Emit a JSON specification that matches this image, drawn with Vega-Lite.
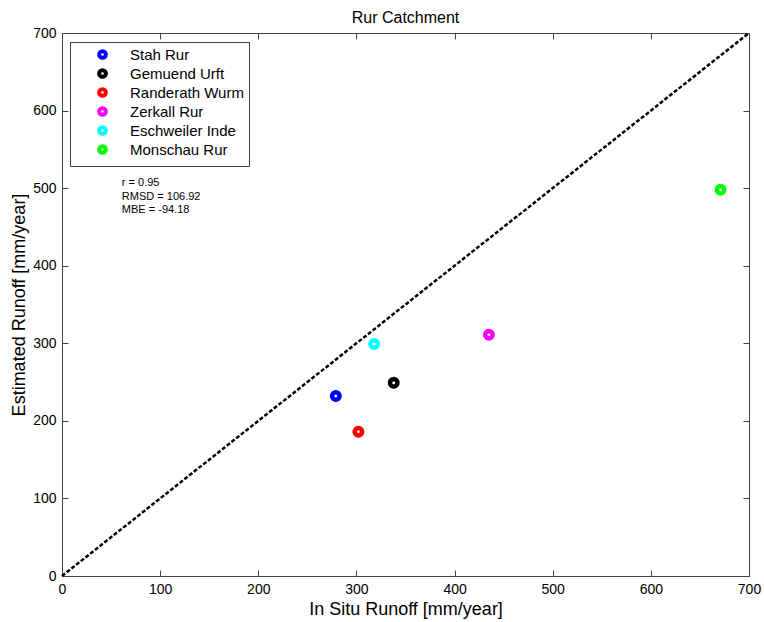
{
  "$schema": "https://vega.github.io/schema/vega-lite/v6.json",
  "width": 687,
  "height": 543,
  "autosize": {"type": "none"},
  "padding": {"left": 62, "top": 33, "right": 15, "bottom": 46},
  "background": "white",
  "config": {
    "font": "Liberation Sans",
    "view": {"stroke": "#444", "strokeWidth": 1},
    "axis": {"grid": false, "domain": false, "tickColor": "#444", "labelColor": "black", "titleColor": "black", "labelFontSize": 14, "titleFontSize": 18, "titleFontWeight": "normal", "tickSize": -6, "labelPadding": 12, "labelFlush": false}
  },
  "title": {"text": "Rur Catchment", "fontSize": 16, "fontWeight": "normal", "offset": 0, "color": "black"},
  "datasets": {
    "stations": [
      {"station": "Stah Rur", "insitu": 279, "estimated": 232},
      {"station": "Gemuend Urft", "insitu": 338, "estimated": 249},
      {"station": "Randerath Wurm", "insitu": 302, "estimated": 186},
      {"station": "Zerkall Rur", "insitu": 435, "estimated": 311},
      {"station": "Eschweiler Inde", "insitu": 318, "estimated": 299},
      {"station": "Monschau Rur", "insitu": 671, "estimated": 498}
    ]
  },
  "resolve": {"axis": {"x": "independent", "y": "independent"}},
  "layer": [
    {
      "data": {"values": [{"line": "1:1"}]},
      "mark": {"type": "rule", "strokeDash": [4, 2], "strokeWidth": 2.5, "color": "black"},
      "encoding": {
        "x": {"datum": 0, "type": "quantitative", "scale": {"domain": [0, 700], "nice": false}, "axis": {"orient": "top", "labels": false, "title": null, "values": [0, 100, 200, 300, 400, 500, 600, 700]}},
        "y": {"datum": 0, "type": "quantitative", "scale": {"domain": [0, 700], "nice": false}, "axis": {"orient": "right", "labels": false, "title": null, "values": [0, 100, 200, 300, 400, 500, 600, 700]}},
        "x2": {"datum": 700},
        "y2": {"datum": 700}
      }
    },
    {
      "data": {"name": "stations"},
      "mark": {"type": "point", "shape": "circle", "filled": false, "strokeWidth": 4.5, "size": 56, "opacity": 1},
      "encoding": {
        "x": {"field": "insitu", "type": "quantitative", "scale": {"domain": [0, 700], "nice": false}, "axis": {"orient": "bottom", "title": "In Situ Runoff [mm/year]", "values": [0, 100, 200, 300, 400, 500, 600, 700], "titlePadding": 4}},
        "y": {"field": "estimated", "type": "quantitative", "scale": {"domain": [0, 700], "nice": false}, "axis": {"orient": "left", "title": "Estimated Runoff [mm/year]", "values": [0, 100, 200, 300, 400, 500, 600, 700], "titlePadding": 4}},
        "color": {
          "field": "station", "type": "nominal",
          "scale": {
            "domain": ["Stah Rur", "Gemuend Urft", "Randerath Wurm", "Zerkall Rur", "Eschweiler Inde", "Monschau Rur"],
            "range": ["#0000ff", "#000000", "#ff0000", "#ff00ff", "#00ffff", "#00ff00"]
          },
          "legend": {
            "title": null, "orient": "none", "legendX": 8, "legendY": 9,
            "strokeColor": "#444", "fillColor": "white", "padding": 5,
            "symbolType": "circle", "symbolStrokeWidth": 4, "symbolSize": 45,
            "labelFontSize": 15, "labelColor": "black",
            "symbolOffset": 20, "labelOffset": 20, "rowPadding": -4
          }
        }
      }
    },
    {
      "data": {"values": [{"stat": "summary"}]},
      "mark": {"type": "text", "text": ["r = 0.95", "RMSD = 106.92", "MBE = -94.18"], "align": "left", "baseline": "top", "fontSize": 11, "lineHeight": 13.5, "color": "black"},
      "encoding": {
        "x": {"datum": 61, "type": "quantitative", "axis": null},
        "y": {"datum": 514, "type": "quantitative", "axis": null}
      }
    }
  ]
}
